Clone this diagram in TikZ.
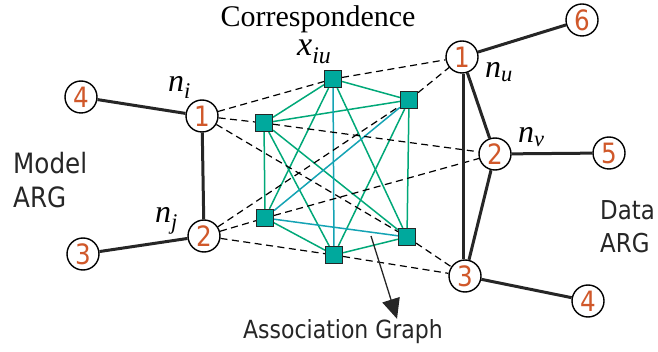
\documentclass[tikz,border=0pt]{standalone}
\usepackage{fontspec}
\setmainfont{Liberation Serif}
\setsansfont{DejaVu Sans}[FakeStretch=0.88]
\definecolor{mOrange}{HTML}{D0582A}
\definecolor{mTeal}{HTML}{00A99D}
\definecolor{mGreen}{HTML}{00A878}
\definecolor{mCyan}{HTML}{14A3B4}
\usetikzlibrary{arrows.meta,backgrounds}
\newcommand{\lblsub}[2]{\textit{#1}\textsubscript{\textit{#2}}}

\begin{document}
\begin{tikzpicture}[x=1pt, y=-1pt,
    vtx/.style={circle, draw, line width=1.4pt, fill=white, minimum size=32pt, inner sep=0pt,
      text=mOrange, font=\sffamily\fontsize{28}{28}\selectfont},
    corr/.style={rectangle, draw=black!85, line width=1.1pt, fill=mTeal, minimum size=17pt, inner sep=0pt},
    arc/.style={line width=3pt, black!85},
    link/.style={line width=1.2pt, dash pattern=on 7pt off 4.5pt},
    gedge/.style={line width=1.5pt, mGreen},
    cedge/.style={line width=1.5pt, mCyan},
    nlbl/.style={font=\fontsize{32}{32}\selectfont, inner sep=0pt, anchor=base west},
    sflbl/.style={text=black!85, inner sep=0pt}]
  \useasboundingbox (0,0) rectangle (658,352);

  % model ARG
  \node[vtx] (mi) at (202,116) {1};
  \node[vtx] (mj) at (204,236) {2};
  \node[vtx] (m4) at (81,97) {4};
  \node[vtx] (m3) at (83,254) {3};
  % data ARG
  \node[vtx] (du) at (462,57) {1};
  \node[vtx] (dv) at (495,154) {2};
  \node[vtx] (dw) at (465,276) {3};
  \node[vtx] (d6) at (582,20) {6};
  \node[vtx] (d5) at (609,153) {5};
  \node[vtx] (d4) at (588,301) {4};

  % association graph
  \node[corr] (xiu) at (333,79) {};
  \node[corr] (xju) at (409,100) {};
  \node[corr] (xiv) at (264,123) {};
  \node[corr] (xjv) at (265,218) {};
  \node[corr] (xjw) at (334,255) {};
  \node[corr] (xiw) at (407,237) {};

  \begin{pgfonlayer}{background}
    \foreach \a/\b in {xiu/xju, xiu/xiv, xiu/xjv, xiu/xiw, xiv/xju, xiv/xjv,
        xiv/xiw, xiv/xjw, xju/xjw, xju/xiw, xjv/xjw, xjw/xiw}
      \draw[gedge] (\a) -- (\b);
    \foreach \a/\b in {xiu/xjw, xju/xjv, xjv/xiw}
      \draw[cedge] (\a) -- (\b);
    \foreach \a/\b in {mi/xiu, mi/xiv, mi/xiw, mj/xju, mj/xjv, mj/xjw,
        xiu/du, xju/du, xiv/dv, xjv/dv, xiw/dw, xjw/dw}
      \draw[link] (\a) -- (\b);
  \end{pgfonlayer}

  \foreach \a/\b in {m4/mi, mi/mj, mj/m3, du/d6, du/dv, dv/dw, dv/d5, dw/d4}
    \draw[arc] (\a) -- (\b);
  \draw[arc] (du.south -| 463,0) -- (dw.north -| 463,0);

  % labels
  \node[font=\fontsize{30}{30}\selectfont, inner sep=0pt, anchor=base] (corrlbl) at (318,27) {Correspondence};
  \node[font=\fontsize{34}{34}\selectfont, inner sep=0pt, anchor=base west] (xlbl) at (297,56) {\lblsub{x}{iu}};
  \node[nlbl] (nilbl) at (168,92) {\lblsub{n}{i}};
  \node[nlbl] (njlbl) at (155,223) {\lblsub{n}{j}};
  \node[nlbl] (nulbl) at (485,78) {\lblsub{n}{u}};
  \node[nlbl] (nvlbl) at (518,143) {\lblsub{n}{v}};

  \node[sflbl, font=\sffamily\fontsize{28}{34}\selectfont, align=left, anchor=north west] (model) at (13,152) {Model\\ARG};
  \node[sflbl, font=\sffamily\fontsize{26}{33}\selectfont, align=left, anchor=north west] (data) at (600,200) {Data\\ARG};
  \node[sflbl, font=\sffamily\fontsize{25}{25}\selectfont, anchor=base] (aglbl) at (343,338) {Association Graph};

  \coordinate (agtail) at (371,236);
  \draw[line width=1.3pt, black!85, -{Triangle[length=20pt, width=18pt]}] (agtail) -- (aglbl.north -| 397,0);
\end{tikzpicture}
\end{document}
